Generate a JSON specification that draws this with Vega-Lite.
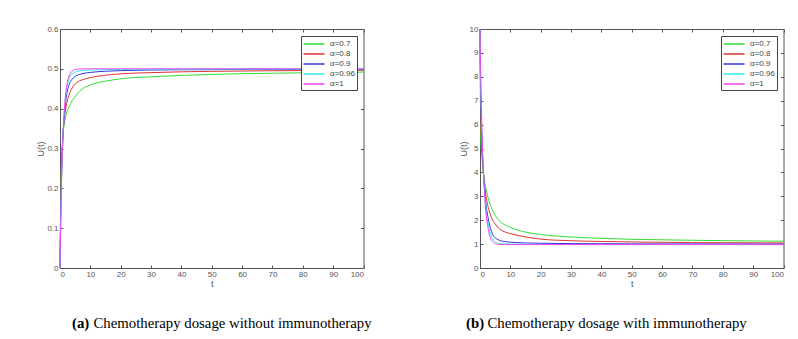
{
  "$schema": "https://vega.github.io/schema/vega-lite/v6.json",
  "padding": {"left": 36, "top": 24, "right": 5, "bottom": 5},
  "background": "white",
  "spacing": 116,
  "bounds": "flush",
  "config": {
    "view": {"stroke": "#555", "strokeWidth": 1},
    "axis": {
      "grid": false,
      "domainColor": "#555",
      "tickColor": "#555",
      "tickSize": -3,
      "labelColor": "#555",
      "titleColor": "#555",
      "labelFont": "Liberation Sans",
      "labelFontSize": 8,
      "titleFont": "Liberation Sans",
      "titleFontSize": 9,
      "titleFontWeight": "normal",
      "labelPadding": 5,
      "titlePadding": 1
    },
    "legend": {
      "orient": "top-right",
      "offset": 7,
      "title": null,
      "strokeColor": "#444",
      "fillColor": "white",
      "padding": 2,
      "labelFont": "Liberation Sans",
      "labelFontSize": 8,
      "labelColor": "#444",
      "symbolType": "M-2.1,0L2.1,0",
      "symbolSize": 100,
      "symbolStrokeWidth": 1.5,
      "symbolOffset": 5,
      "labelOffset": 10,
      "rowPadding": -1
    }
  },
  "hconcat": [
    {
      "width": 303.5,
      "height": 239,
      "title": {
        "text": "(a)",
        "subtitle": "\u200b\u00a0\u00a0\u00a0\u00a0\u00a0\u2009Chemotherapy dosage without immunotherapy",
        "orient": "bottom",
        "anchor": "start",
        "frame": "group",
        "dx": 12,
        "offset": 28,
        "font": "Liberation Serif",
        "fontSize": 14.8,
        "fontWeight": "bold",
        "color": "black",
        "subtitleFont": "Liberation Serif",
        "subtitleFontSize": 14.8,
        "subtitleColor": "black",
        "subtitlePadding": -14.8
      },
      "data": {"values": [
        {"t":0,"u":0,"a":"α=0.7"},{"t":0.25,"u":0.18,"a":"α=0.7"},{"t":0.5,"u":0.26,"a":"α=0.7"},{"t":1,"u":0.335,"a":"α=0.7"},{"t":1.5,"u":0.365,"a":"α=0.7"},{"t":2,"u":0.385,"a":"α=0.7"},{"t":3,"u":0.405,"a":"α=0.7"},{"t":4,"u":0.42,"a":"α=0.7"},{"t":5,"u":0.43,"a":"α=0.7"},{"t":6,"u":0.44,"a":"α=0.7"},{"t":8,"u":0.453,"a":"α=0.7"},{"t":10,"u":0.46,"a":"α=0.7"},{"t":15,"u":0.469,"a":"α=0.7"},{"t":20,"u":0.475,"a":"α=0.7"},{"t":30,"u":0.48,"a":"α=0.7"},{"t":40,"u":0.4835,"a":"α=0.7"},{"t":50,"u":0.486,"a":"α=0.7"},{"t":60,"u":0.4878,"a":"α=0.7"},{"t":70,"u":0.489,"a":"α=0.7"},{"t":80,"u":0.49,"a":"α=0.7"},{"t":90,"u":0.491,"a":"α=0.7"},{"t":100,"u":0.4918,"a":"α=0.7"},
        {"t":0,"u":0,"a":"α=0.8"},{"t":0.25,"u":0.16,"a":"α=0.8"},{"t":0.5,"u":0.245,"a":"α=0.8"},{"t":1,"u":0.335,"a":"α=0.8"},{"t":1.5,"u":0.38,"a":"α=0.8"},{"t":2,"u":0.405,"a":"α=0.8"},{"t":3,"u":0.435,"a":"α=0.8"},{"t":4,"u":0.452,"a":"α=0.8"},{"t":5,"u":0.462,"a":"α=0.8"},{"t":6,"u":0.468,"a":"α=0.8"},{"t":8,"u":0.474,"a":"α=0.8"},{"t":10,"u":0.478,"a":"α=0.8"},{"t":15,"u":0.484,"a":"α=0.8"},{"t":20,"u":0.4875,"a":"α=0.8"},{"t":30,"u":0.4905,"a":"α=0.8"},{"t":40,"u":0.4925,"a":"α=0.8"},{"t":50,"u":0.4937,"a":"α=0.8"},{"t":60,"u":0.4945,"a":"α=0.8"},{"t":70,"u":0.4952,"a":"α=0.8"},{"t":80,"u":0.4957,"a":"α=0.8"},{"t":90,"u":0.496,"a":"α=0.8"},{"t":100,"u":0.4963,"a":"α=0.8"},
        {"t":0,"u":0,"a":"α=0.9"},{"t":0.25,"u":0.14,"a":"α=0.9"},{"t":0.5,"u":0.23,"a":"α=0.9"},{"t":1,"u":0.335,"a":"α=0.9"},{"t":1.5,"u":0.39,"a":"α=0.9"},{"t":2,"u":0.425,"a":"α=0.9"},{"t":3,"u":0.46,"a":"α=0.9"},{"t":4,"u":0.474,"a":"α=0.9"},{"t":5,"u":0.481,"a":"α=0.9"},{"t":6,"u":0.485,"a":"α=0.9"},{"t":8,"u":0.489,"a":"α=0.9"},{"t":10,"u":0.491,"a":"α=0.9"},{"t":15,"u":0.494,"a":"α=0.9"},{"t":20,"u":0.4955,"a":"α=0.9"},{"t":30,"u":0.497,"a":"α=0.9"},{"t":40,"u":0.4977,"a":"α=0.9"},{"t":50,"u":0.498,"a":"α=0.9"},{"t":60,"u":0.4985,"a":"α=0.9"},{"t":70,"u":0.4987,"a":"α=0.9"},{"t":80,"u":0.4989,"a":"α=0.9"},{"t":90,"u":0.499,"a":"α=0.9"},{"t":100,"u":0.4991,"a":"α=0.9"},
        {"t":0,"u":0,"a":"α=0.96"},{"t":0.25,"u":0.13,"a":"α=0.96"},{"t":0.5,"u":0.22,"a":"α=0.96"},{"t":1,"u":0.335,"a":"α=0.96"},{"t":1.5,"u":0.4,"a":"α=0.96"},{"t":2,"u":0.44,"a":"α=0.96"},{"t":3,"u":0.475,"a":"α=0.96"},{"t":4,"u":0.487,"a":"α=0.96"},{"t":5,"u":0.492,"a":"α=0.96"},{"t":6,"u":0.494,"a":"α=0.96"},{"t":8,"u":0.496,"a":"α=0.96"},{"t":10,"u":0.497,"a":"α=0.96"},{"t":15,"u":0.498,"a":"α=0.96"},{"t":20,"u":0.4985,"a":"α=0.96"},{"t":30,"u":0.499,"a":"α=0.96"},{"t":40,"u":0.4993,"a":"α=0.96"},{"t":50,"u":0.4994,"a":"α=0.96"},{"t":60,"u":0.4995,"a":"α=0.96"},{"t":70,"u":0.4996,"a":"α=0.96"},{"t":80,"u":0.4996,"a":"α=0.96"},{"t":90,"u":0.4997,"a":"α=0.96"},{"t":100,"u":0.4997,"a":"α=0.96"},
        {"t":0,"u":0,"a":"α=1"},{"t":0.25,"u":0.12,"a":"α=1"},{"t":0.5,"u":0.212,"a":"α=1"},{"t":1,"u":0.333,"a":"α=1"},{"t":1.5,"u":0.404,"a":"α=1"},{"t":2,"u":0.445,"a":"α=1"},{"t":3,"u":0.482,"a":"α=1"},{"t":4,"u":0.494,"a":"α=1"},{"t":5,"u":0.498,"a":"α=1"},{"t":6,"u":0.4993,"a":"α=1"},{"t":8,"u":0.5,"a":"α=1"},{"t":10,"u":0.5,"a":"α=1"},{"t":15,"u":0.5,"a":"α=1"},{"t":20,"u":0.5,"a":"α=1"},{"t":30,"u":0.5,"a":"α=1"},{"t":40,"u":0.5,"a":"α=1"},{"t":50,"u":0.5,"a":"α=1"},{"t":60,"u":0.5,"a":"α=1"},{"t":70,"u":0.5,"a":"α=1"},{"t":80,"u":0.5,"a":"α=1"},{"t":90,"u":0.5,"a":"α=1"},{"t":100,"u":0.5,"a":"α=1"}
      ]},
      "layer": [
        {
          "mark": {"type": "line", "strokeWidth": 1, "interpolate": "monotone"},
          "encoding": {
            "x": {"field": "t", "type": "quantitative", "scale": {"domain": [0, 100], "nice": false}, "axis": {"title": "t", "values": [0,10,20,30,40,50,60,70,80,90,100]}},
            "y": {"field": "u", "type": "quantitative", "scale": {"domain": [0, 0.6], "nice": false}, "axis": {"title": "U(t)", "values": [0,0.1,0.2,0.3,0.4,0.5,0.6], "format": "~g"}},
            "color": {"field": "a", "type": "nominal", "scale": {"domain": ["α=0.7","α=0.8","α=0.9","α=0.96","α=1"], "range": ["#33dd33","#dd3333","#3333dd","#33eeee","#ee44ee"]}}
          }
        },
        {
          "data": {"values": [{}]},
          "mark": {"type": "point", "opacity": 0},
          "encoding": {
            "x": {"datum": 0, "type": "quantitative", "axis": {"orient": "top", "labels": false, "domain": false, "title": null, "labelPadding": 0, "values": [0,10,20,30,40,50,60,70,80,90,100]}},
            "y": {"datum": 0, "type": "quantitative", "axis": {"orient": "right", "labels": false, "domain": false, "title": null, "labelPadding": 0, "values": [0,0.1,0.2,0.3,0.4,0.5,0.6]}}
          }
        }
      ],
      "resolve": {"axis": {"x": "independent", "y": "independent"}}
    },
    {
      "width": 303.5,
      "height": 239,
      "title": {
        "text": "(b)",
        "subtitle": "\u200b\u00a0\u00a0\u00a0\u00a0\u00a0\u2009Chemotherapy dosage with immunotherapy",
        "orient": "bottom",
        "anchor": "start",
        "frame": "group",
        "dx": -14,
        "offset": 28,
        "font": "Liberation Serif",
        "fontSize": 14.8,
        "fontWeight": "bold",
        "color": "black",
        "subtitleFont": "Liberation Serif",
        "subtitleFontSize": 14.8,
        "subtitleColor": "black",
        "subtitlePadding": -14.8
      },
      "data": {"values": [
        {"t":0,"u":10,"a":"α=0.7"},{"t":0.25,"u":5.6,"a":"α=0.7"},{"t":0.5,"u":4.9,"a":"α=0.7"},{"t":1,"u":4.15,"a":"α=0.7"},{"t":1.5,"u":3.65,"a":"α=0.7"},{"t":2,"u":3.3,"a":"α=0.7"},{"t":3,"u":2.8,"a":"α=0.7"},{"t":4,"u":2.45,"a":"α=0.7"},{"t":5,"u":2.2,"a":"α=0.7"},{"t":6,"u":2.02,"a":"α=0.7"},{"t":8,"u":1.82,"a":"α=0.7"},{"t":10,"u":1.7,"a":"α=0.7"},{"t":15,"u":1.5,"a":"α=0.7"},{"t":20,"u":1.4,"a":"α=0.7"},{"t":30,"u":1.3,"a":"α=0.7"},{"t":40,"u":1.24,"a":"α=0.7"},{"t":50,"u":1.2,"a":"α=0.7"},{"t":60,"u":1.18,"a":"α=0.7"},{"t":70,"u":1.16,"a":"α=0.7"},{"t":80,"u":1.145,"a":"α=0.7"},{"t":90,"u":1.13,"a":"α=0.7"},{"t":100,"u":1.12,"a":"α=0.7"},
        {"t":0,"u":10,"a":"α=0.8"},{"t":0.25,"u":6.3,"a":"α=0.8"},{"t":0.5,"u":5.3,"a":"α=0.8"},{"t":1,"u":4.2,"a":"α=0.8"},{"t":1.5,"u":3.5,"a":"α=0.8"},{"t":2,"u":3.0,"a":"α=0.8"},{"t":3,"u":2.4,"a":"α=0.8"},{"t":4,"u":2.05,"a":"α=0.8"},{"t":5,"u":1.85,"a":"α=0.8"},{"t":6,"u":1.68,"a":"α=0.8"},{"t":8,"u":1.52,"a":"α=0.8"},{"t":10,"u":1.44,"a":"α=0.8"},{"t":15,"u":1.3,"a":"α=0.8"},{"t":20,"u":1.21,"a":"α=0.8"},{"t":30,"u":1.14,"a":"α=0.8"},{"t":40,"u":1.11,"a":"α=0.8"},{"t":50,"u":1.09,"a":"α=0.8"},{"t":60,"u":1.075,"a":"α=0.8"},{"t":70,"u":1.065,"a":"α=0.8"},{"t":80,"u":1.058,"a":"α=0.8"},{"t":90,"u":1.052,"a":"α=0.8"},{"t":100,"u":1.048,"a":"α=0.8"},
        {"t":0,"u":10,"a":"α=0.9"},{"t":0.25,"u":7.0,"a":"α=0.9"},{"t":0.5,"u":5.8,"a":"α=0.9"},{"t":1,"u":4.3,"a":"α=0.9"},{"t":1.5,"u":3.3,"a":"α=0.9"},{"t":2,"u":2.65,"a":"α=0.9"},{"t":3,"u":1.9,"a":"α=0.9"},{"t":4,"u":1.45,"a":"α=0.9"},{"t":5,"u":1.27,"a":"α=0.9"},{"t":6,"u":1.18,"a":"α=0.9"},{"t":8,"u":1.11,"a":"α=0.9"},{"t":10,"u":1.08,"a":"α=0.9"},{"t":15,"u":1.05,"a":"α=0.9"},{"t":20,"u":1.035,"a":"α=0.9"},{"t":30,"u":1.02,"a":"α=0.9"},{"t":40,"u":1.015,"a":"α=0.9"},{"t":50,"u":1.01,"a":"α=0.9"},{"t":60,"u":1.008,"a":"α=0.9"},{"t":70,"u":1.006,"a":"α=0.9"},{"t":80,"u":1.005,"a":"α=0.9"},{"t":90,"u":1.004,"a":"α=0.9"},{"t":100,"u":1.003,"a":"α=0.9"},
        {"t":0,"u":10,"a":"α=0.96"},{"t":0.25,"u":7.6,"a":"α=0.96"},{"t":0.5,"u":6.2,"a":"α=0.96"},{"t":1,"u":4.4,"a":"α=0.96"},{"t":1.5,"u":3.2,"a":"α=0.96"},{"t":2,"u":2.45,"a":"α=0.96"},{"t":3,"u":1.65,"a":"α=0.96"},{"t":4,"u":1.25,"a":"α=0.96"},{"t":5,"u":1.1,"a":"α=0.96"},{"t":6,"u":1.04,"a":"α=0.96"},{"t":8,"u":1.01,"a":"α=0.96"},{"t":10,"u":1.0,"a":"α=0.96"},{"t":15,"u":0.99,"a":"α=0.96"},{"t":20,"u":0.985,"a":"α=0.96"},{"t":30,"u":0.982,"a":"α=0.96"},{"t":40,"u":0.981,"a":"α=0.96"},{"t":50,"u":0.98,"a":"α=0.96"},{"t":60,"u":0.98,"a":"α=0.96"},{"t":70,"u":0.98,"a":"α=0.96"},{"t":80,"u":0.98,"a":"α=0.96"},{"t":90,"u":0.98,"a":"α=0.96"},{"t":100,"u":0.98,"a":"α=0.96"},
        {"t":0,"u":10,"a":"α=1"},{"t":0.25,"u":8.0,"a":"α=1"},{"t":0.5,"u":6.5,"a":"α=1"},{"t":1,"u":4.4,"a":"α=1"},{"t":1.5,"u":3.1,"a":"α=1"},{"t":2,"u":2.3,"a":"α=1"},{"t":3,"u":1.45,"a":"α=1"},{"t":4,"u":1.12,"a":"α=1"},{"t":5,"u":1.02,"a":"α=1"},{"t":6,"u":0.99,"a":"α=1"},{"t":8,"u":0.985,"a":"α=1"},{"t":10,"u":0.982,"a":"α=1"},{"t":15,"u":0.98,"a":"α=1"},{"t":20,"u":0.98,"a":"α=1"},{"t":30,"u":0.98,"a":"α=1"},{"t":40,"u":0.98,"a":"α=1"},{"t":50,"u":0.98,"a":"α=1"},{"t":60,"u":0.98,"a":"α=1"},{"t":70,"u":0.98,"a":"α=1"},{"t":80,"u":0.98,"a":"α=1"},{"t":90,"u":0.98,"a":"α=1"},{"t":100,"u":0.98,"a":"α=1"}
      ]},
      "layer": [
        {
          "mark": {"type": "line", "strokeWidth": 1, "interpolate": "monotone"},
          "encoding": {
            "x": {"field": "t", "type": "quantitative", "scale": {"domain": [0, 100], "nice": false}, "axis": {"title": "t", "values": [0,10,20,30,40,50,60,70,80,90,100]}},
            "y": {"field": "u", "type": "quantitative", "scale": {"domain": [0, 10], "nice": false}, "axis": {"title": "U(t)", "values": [0,1,2,3,4,5,6,7,8,9,10]}},
            "color": {"field": "a", "type": "nominal", "scale": {"domain": ["α=0.7","α=0.8","α=0.9","α=0.96","α=1"], "range": ["#33dd33","#dd3333","#3333dd","#33eeee","#ee44ee"]}}
          }
        },
        {
          "data": {"values": [{}]},
          "mark": {"type": "point", "opacity": 0},
          "encoding": {
            "x": {"datum": 0, "type": "quantitative", "axis": {"orient": "top", "labels": false, "domain": false, "title": null, "labelPadding": 0, "values": [0,10,20,30,40,50,60,70,80,90,100]}},
            "y": {"datum": 0, "type": "quantitative", "axis": {"orient": "right", "labels": false, "domain": false, "title": null, "labelPadding": 0, "values": [0,1,2,3,4,5,6,7,8,9,10]}}
          }
        }
      ],
      "resolve": {"axis": {"x": "independent", "y": "independent"}}
    }
  ],
  "resolve": {"scale": {"color": "independent"}}
}
